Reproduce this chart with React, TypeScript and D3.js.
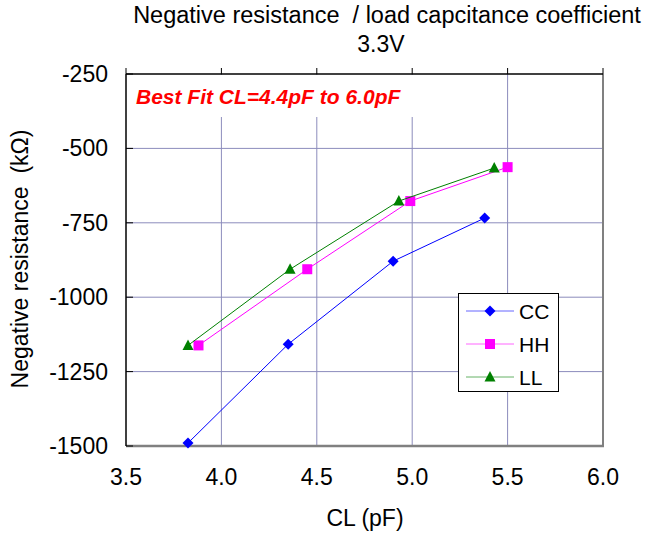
import React from "react";
import * as d3 from "d3";

const xTicks = [3.5, 4.0, 4.5, 5.0, 5.5, 6.0];
const yTicks = [-250, -500, -750, -1000, -1250, -1500];

const ccX = [3.825, 4.35, 4.9, 5.38];
const ccY = [-1490, -1158, -879, -734];
const hhX = [3.88, 4.45, 4.99, 5.5];
const hhY = [-1162, -906, -677, -563];
const llX = [3.825, 4.36, 4.93, 5.43];
const llY = [-1162, -906, -677, -566];

const seriesNames = ["CC", "HH", "LL"];
const seriesColors = ["#0000FF", "#FF00FF", "#008000"];

const FONT = "Liberation Sans, Arial, sans-serif";

function Marker({ kind, x, y, color }: { kind: number; x: number; y: number; color: string }) {
  if (kind === 0) {
    const r = 5.5;
    return <path d={`M${x},${y - r}L${x + r},${y}L${x},${y + r}L${x - r},${y}Z`} fill={color} />;
  }
  if (kind === 1) {
    return <rect x={x - 5} y={y - 5} width={10} height={10} fill={color} />;
  }
  return <path d={`M${x},${y - 6}L${x + 5.5},${y + 4.5}L${x - 5.5},${y + 4.5}Z`} fill={color} />;
}

export default function App() {
  const L = 126, R = 603, T = 74, B = 446;
  const x = d3.scaleLinear().domain([3.5, 6.0]).range([L, R]);
  const y = d3.scaleLinear().domain([-1500, -250]).range([B, T]);
  const series = [
    { xs: ccX, ys: ccY },
    { xs: hhX, ys: hhY },
    { xs: llX, ys: llY },
  ];
  const line = d3.line<[number, number]>().x(d => x(d[0])).y(d => y(d[1]));
  const fmt = d3.format(".1f");

  return (
    <svg width={649} height={536} style={{ position: "absolute", left: 0, top: 0, background: "#fff" }} fontFamily={FONT}>
      <rect width={649} height={536} fill="#fff" />
      {/* gridlines */}
      {xTicks.slice(1, -1).map(t => (
        <line key={"gx" + t} x1={x(t)} x2={x(t)} y1={T} y2={B} stroke="#8C8CBC" strokeWidth={1} />
      ))}
      {yTicks.slice(1, -1).map(t => (
        <line key={"gy" + t} x1={L} x2={R} y1={y(t)} y2={y(t)} stroke="#8C8CBC" strokeWidth={1} />
      ))}
      {/* annotation box */}
      <rect x={L + 1} y={T + 1} width={293} height={42} fill="#fff" />
      <text x={136} y={104} fill="#FF0000" fontSize={21} fontWeight="bold" fontStyle="italic">
        Best Fit CL=4.4pF to 6.0pF
      </text>
      {/* borders */}
      <line x1={R} x2={R} y1={T} y2={B + 1} stroke="#808080" strokeWidth={2} />
      <line x1={L} x2={R + 1} y1={B} y2={B} stroke="#808080" strokeWidth={2.5} />
      <line x1={L} x2={R} y1={T} y2={T} stroke="#000" strokeWidth={1.5} />
      <line x1={L} x2={L} y1={T} y2={B} stroke="#000" strokeWidth={1.5} />
      {xTicks.map(t => (
        <line key={"tx" + t} x1={x(t)} x2={x(t)} y1={T - 6} y2={T} stroke="#000" strokeWidth={1} />
      ))}
      {yTicks.map(t => (
        <line key={"ty" + t} x1={L} x2={L + 7} y1={y(t)} y2={y(t)} stroke="#000" strokeWidth={1} />
      ))}
      {/* series */}
      {series.map((s, i) => (
        <g key={"s" + i}>
          <path
            d={line(s.xs.map((v, j) => [v, s.ys[j]] as [number, number])) || ""}
            fill="none"
            stroke={seriesColors[i]}
            strokeWidth={1}
          />
          {s.xs.map((v, j) => (
            <Marker key={j} kind={i} x={x(v)} y={y(s.ys[j])} color={seriesColors[i]} />
          ))}
        </g>
      ))}
      {/* tick labels */}
      {yTicks.map(t => (
        <text key={"ly" + t} x={108} y={y(t) + 8} textAnchor="end" fontSize={23} fill="#000">
          {t}
        </text>
      ))}
      {xTicks.map(t => (
        <text key={"lx" + t} x={x(t)} y={485} textAnchor="middle" fontSize={23} fill="#000">
          {fmt(t)}
        </text>
      ))}
      {/* axis titles */}
      <text x={365} y={526} textAnchor="middle" fontSize={23} fill="#000">CL (pF)</text>
      <text
        transform={`translate(28,${259}) rotate(-90)`}
        textAnchor="middle"
        fontSize={23}
        fill="#000"
        style={{ whiteSpace: "pre" }}
      >
        {"Negative resistance  (kΩ)"}
      </text>
      <text x={387} y={23} textAnchor="middle" fontSize={23.5} fill="#000" style={{ whiteSpace: "pre" }}>
        {"Negative resistance  / load capcitance coefficient"}
      </text>
      <text x={381} y={52} textAnchor="middle" fontSize={23} fill="#000">3.3V</text>
      {/* legend */}
      <rect x={458.5} y={293.5} width={100} height={98} fill="#fff" stroke="#000" strokeWidth={1} />
      {seriesNames.map((n, i) => {
        const ly = 311 + i * 33;
        return (
          <g key={"lg" + n}>
            <line x1={466} x2={514} y1={ly} y2={ly} stroke={seriesColors[i]} strokeWidth={1} strokeOpacity={0.6} />
            <Marker kind={i} x={490} y={ly} color={seriesColors[i]} />
            <text x={519} y={ly + 7.5} fontSize={21} fill="#000">{n}</text>
          </g>
        );
      })}
    </svg>
  );
}
